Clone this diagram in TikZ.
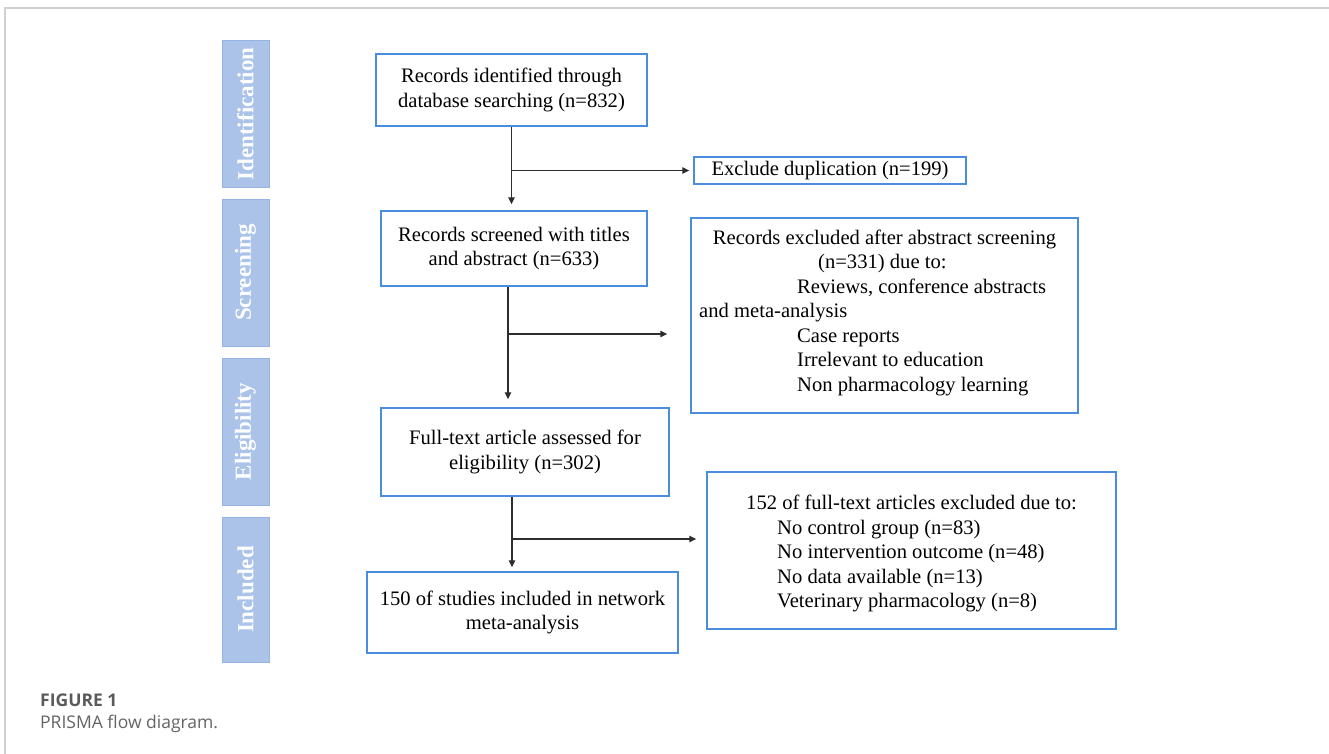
\documentclass[tikz,border=0pt]{standalone}
\usepackage{fontspec}
\setmainfont{Liberation Serif}
\newfontfamily\capfont{Open Sans}
\usetikzlibrary{arrows.meta}
\definecolor{boxblue}{RGB}{74,140,222}
\definecolor{stagefill}{RGB}{171,195,232}
\definecolor{stageline}{RGB}{150,180,226}
\definecolor{arrowgray}{RGB}{45,45,45}
\definecolor{framegray}{RGB}{208,208,208}
\definecolor{capgray}{RGB}{100,100,100}
\tikzset{
  flowbox/.style={draw=boxblue, line width=1.4pt, fill=white, inner sep=0pt, align=center,
    font=\fontsize{20.6}{24.6}\selectfont},
  flowtext/.style={inner sep=0pt, font=\fontsize{20.6}{24.6}\selectfont},
  stage/.style={draw=stageline, line width=1pt, fill=stagefill, rotate=90, inner sep=0pt,
    minimum height=47pt, text=white!96!stagefill, font=\fontsize{23}{26}\selectfont\bfseries},
  arr/.style={draw=arrowgray, line width=1.3pt, -{Triangle[length=7pt,width=6.5pt]}},
  ln/.style={draw=arrowgray, line width=1.3pt}
}
\begin{document}
\begin{tikzpicture}[x=1pt,y=-1pt]
\useasboundingbox (0,0) rectangle (1329,754);
% card frame
\draw[framegray, line width=2pt] (5,754) -- (5,8) -- (1329,8);

% stage labels
\node[stage, minimum width=146pt] (sid) at (245.5,114) {Identification};
\node[stage, minimum width=147pt] (ssc) at (245.5,272.5) {Screening};
\node[stage, minimum width=147pt] (sel) at (245.5,431.5) {Eligibility};
\node[stage, minimum width=145pt] (sin) at (245.5,589.5) {Included};

% main boxes
\node[flowbox, minimum width=271pt, minimum height=72pt] (b1) at (511.5,90)
  {Records identified through\\database searching (n=832)};
\node[flowbox, minimum width=266pt, minimum height=75pt] (b2) at (514,248.5)
  {Records screened with titles\\and abstract (n=633)};
\node[flowbox, minimum width=288pt, minimum height=88pt] (b3) at (525,452)
  {Full-text article assessed for\\eligibility (n=302)};
\node[flowbox, minimum width=311pt, minimum height=81pt] (b4) at (522.5,612.5)
  {150 of studies included in network\\meta-analysis};

% exclusion boxes
\node[flowbox, minimum width=272pt, minimum height=27pt] (e1) at (830,170.5)
  {Exclude duplication (n=199)};
\node[flowbox, minimum width=387pt, minimum height=195pt] (e2) at (884.5,315.5) {};
\node[flowtext, anchor=base] (e2t1) at (884.5,244) {Records excluded after abstract screening};
\node[flowtext, anchor=base west] (e2t2) at (818,268.5) {(n=331) due to:};
\node[flowtext, anchor=base west] (e2t3) at (797,293) {Reviews, conference abstracts};
\node[flowtext, anchor=base west] (e2t4) at (699,317.5) {and meta-analysis};
\node[flowtext, anchor=base west] (e2t5) at (797,342) {Case reports};
\node[flowtext, anchor=base west] (e2t6) at (797,366.5) {Irrelevant to education};
\node[flowtext, anchor=base west] (e2t7) at (797,391) {Non pharmacology learning};

\node[flowbox, minimum width=409pt, minimum height=157pt] (e3) at (911.5,550.5) {};
\node[flowtext, anchor=base west] (e3t1) at (746,509) {152 of full-text articles excluded due to:};
\node[flowtext, anchor=base west] (e3t2) at (777,534) {No control group (n=83)};
\node[flowtext, anchor=base west] (e3t3) at (777,558.5) {No intervention outcome (n=48)};
\node[flowtext, anchor=base west] (e3t4) at (777,583) {No data available (n=13)};
\node[flowtext, anchor=base west] (e3t5) at (777,607.5) {Veterinary pharmacology (n=8)};

% connectors
\coordinate (j1) at (b1.south |- e1.west);
\draw[arr, shorten >=6pt] (b1.south) -- (b1.south |- b2.north);
\draw[arr, shorten >=4pt] (j1) -- (e1.west);

\coordinate (s2) at ([xshift=-6pt]b2.south);
\coordinate (j2) at (s2 |- 0,334);
\draw[arr, shorten >=8pt] (s2) -- (s2 |- b3.north);
\draw[arr, shorten >=23pt] (j2) -- (j2 -| e2.west);

\coordinate (s3) at ([xshift=-13pt]b3.south);
\coordinate (j3) at (s3 |- 0,539);
\draw[arr, shorten >=4pt] (s3) -- (s3 |- b4.north);
\draw[arr, shorten >=10pt] (j3) -- (j3 -| e3.west);

% caption
\node[anchor=base west, inner sep=0pt, text=capgray!90!black, font=\capfont\bfseries\fontsize{17.5}{21}\selectfont] (cap1) at (40,706) {FIGURE 1};
\node[anchor=base west, inner sep=0pt, text=capgray, font=\capfont\fontsize{17.5}{21}\selectfont] (cap2) at (40,728) {PRISMA flow diagram.};
\end{tikzpicture}
\end{document}
